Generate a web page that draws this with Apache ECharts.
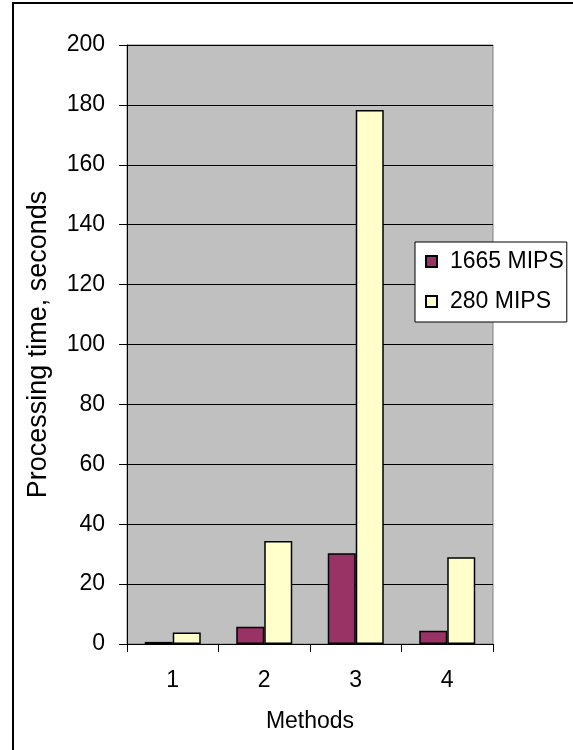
<!DOCTYPE html>
<html>
<head>
<meta charset="utf-8">
<script src="https://cdn.jsdelivr.net/npm/echarts@6/dist/echarts.min.js"></script>
<style>
html,body{margin:0;padding:0;background:#fff;}
#chart{width:573px;height:750px;}
</style>
</head>
<body>
<div id="chart"></div>
<script>
var categories = ['1', '2', '3', '4'];
var seriesNames = ['1665 MIPS', '280 MIPS'];
var mips1665 = [0.7, 5.8, 30.3, 4.4];
var mips280 = [3.8, 34.4, 178.3, 29.0];
var yTicks = [0, 20, 40, 60, 80, 100, 120, 140, 160, 180, 200];

var FONT = "'Liberation Sans', Arial, sans-serif";
var chart = echarts.init(document.getElementById('chart'), null, {renderer: 'canvas'});
chart.setOption({
  animation: false,
  backgroundColor: '#ffffff',
  textStyle: {fontFamily: FONT, color: '#000'},
  graphic: [{
    type: 'rect', z: 100, silent: true,
    shape: {x: 13, y: 3, width: 620, height: 820},
    style: {fill: 'none', stroke: '#000', lineWidth: 2}
  }],
  grid: {
    left: 127, top: 45, right: 80, bottom: 106,
    show: true, backgroundColor: '#C0C0C0', borderColor: '#808080', borderWidth: 1
  },
  legend: {
    orient: 'vertical',
    left: 415, top: 242,
    padding: [8, 3, 9, 10],
    itemGap: 17,
    itemWidth: 11, itemHeight: 11,
    backgroundColor: '#fff',
    borderColor: '#000', borderWidth: 1,
    icon: 'rect',
    textStyle: {fontFamily: FONT, fontSize: 23, color: '#000', padding: [0, 0, 0, 8]},
    data: seriesNames
  },
  xAxis: {
    type: 'category',
    data: categories,
    name: 'Methods',
    nameLocation: 'middle',
    nameGap: 66,
    nameTextStyle: {fontFamily: FONT, fontSize: 23, color: '#000'},
    axisLine: {show: true, lineStyle: {color: '#000', width: 1}},
    axisTick: {show: true, length: 8, lineStyle: {color: '#000'}},
    axisLabel: {margin: 25, fontFamily: FONT, fontSize: 23, color: '#000'},
    splitLine: {show: false}
  },
  yAxis: {
    type: 'value',
    min: 0, max: 200, interval: 20,
    name: 'Processing time, seconds',
    nameLocation: 'middle',
    nameGap: 75,
    nameTextStyle: {fontFamily: FONT, fontSize: 27, color: '#000'},
    axisLine: {show: true, lineStyle: {color: '#000', width: 1}},
    axisTick: {show: true, length: 8, lineStyle: {color: '#000'}},
    axisLabel: {
      margin: 22, fontFamily: FONT, fontSize: 23, color: '#000',
      formatter: function (v) { return yTicks.indexOf(v) >= 0 ? String(v) : ''; }
    },
    splitLine: {show: true, lineStyle: {color: '#000', width: 1}}
  },
  series: [{
    name: seriesNames[0],
    type: 'bar',
    data: mips1665,
    barWidth: 28,
    barGap: '0%',
    itemStyle: {color: '#993366', borderColor: '#000', borderWidth: 1.5}
  }, {
    name: seriesNames[1],
    type: 'bar',
    data: mips280,
    barWidth: 28,
    barGap: '0%',
    itemStyle: {color: '#FFFFCC', borderColor: '#000', borderWidth: 1.5}
  }]
});
</script>
</body>
</html>
